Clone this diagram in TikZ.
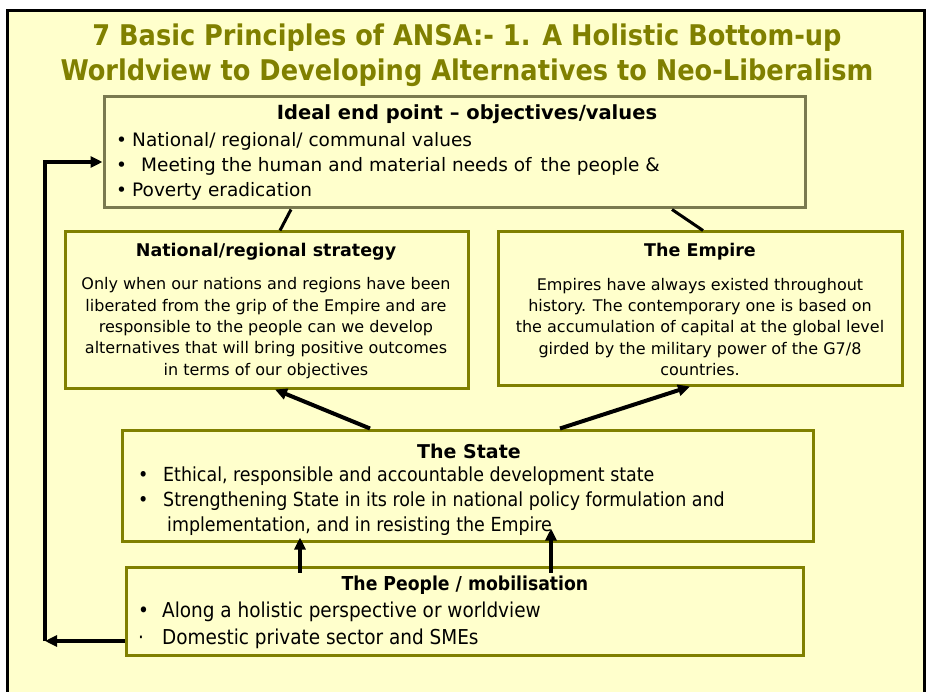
\documentclass[tikz,border=0pt]{standalone}
\usepackage{fontspec}
\setmainfont{DejaVu Sans}
\newfontfamily\condfont{DejaVu Sans Condensed}
\usetikzlibrary{arrows.meta,positioning}
\definecolor{pagebg}{HTML}{FFFFCC}
\definecolor{boxolive}{HTML}{808000}
\definecolor{boxgrey}{HTML}{7A7A50}
\newcommand{\dotmark}{\makebox[16pt][l]{•}}
\begin{document}
\begin{tikzpicture}[
        x = 1pt, y = -1pt,
        box/.style     = {draw=boxolive, line width=3pt, minimum width=#1, inner sep=0pt},
        head/.style    = {font=\fontsize{17.5}{20}\selectfont\bfseries},
        body/.style    = {font=\fontsize{16}{21.3}\selectfont, align=center, inner sep=0pt},
        item/.style    = {font=\fontsize{18.5}{20}\selectfont, anchor=west, inner sep=0pt},
        conditem/.style= {font=\condfont\fontsize{19.4}{21}\selectfont, anchor=west, inner sep=0pt},
        link/.style    = {black, line width=3pt},
        arrow/.style   = {black, line width=4pt, -{Triangle[length=12pt,width=11pt]}},
      ]
    \useasboundingbox (0,0) rectangle (926,692);
    \fill[white] (0,0) rectangle (926,692);
    \fill[pagebg] (7,11) rectangle (924,700);
    \draw[line width=3pt] (7,700) -- (7,11) -- (924,11) -- (924,700);

    % title
    \node[font=\condfont\fontsize{28.5}{35}\selectfont\bfseries, text=boxolive, align=center] (title) at (467,55)
        {7 Basic Principles of ANSA:- 1. A Holistic Bottom-up\\
         Worldview to Developing Alternatives to Neo-Liberalism};

    % boxes
    \node[box=701pt, draw=boxgrey, minimum height=111pt] (ideal) at (454.5,152.5) {};
    \node[box=403pt, minimum height=156pt] (natl) at (266.5,310) {};
    \node[box=404pt, minimum height=153pt] (empire) at (700,308.5) {};
    \node[box=691pt, minimum height=111pt] (state) at (467.5,485.5) {};
    \node[box=677pt, minimum height=88pt] (people) at (464.5,611) {};

    % ideal end point
    \node[head, font=\fontsize{19.5}{22}\selectfont\bfseries] (idealhead) at (467,114) {Ideal end point – objectives/values};
    \node[item] (ideal1) at (116,141) {\dotmark National/ regional/ communal values};
    \node[item] (ideal2) at (116,166) {\dotmark\, Meeting the human and material needs of\, the people \&};
    \node[item] (ideal3) at (116,191) {\dotmark Poverty eradication};

    % national / regional strategy
    \node[head] (natlhead) at (266,252) {National/regional strategy};
    \node[body] (natltext) at (266,328) {Only when our nations and regions have been\\
        liberated from the grip of the Empire and are\\
        responsible to the people can we develop\\
        alternatives that will bring positive outcomes\\
        in terms of our objectives};

    % the empire
    \node[head] (empirehead) at (700,252) {The Empire};
    \node[body] (empiretext) at (700,327) {Empires have always existed throughout\\
        history. The contemporary one is based on\\
        the accumulation of capital at the global level\\
        girded by the military power of the G7/8\\
        countries.};

    % the state
    \node[head, font=\fontsize{19}{21}\selectfont\bfseries] (statehead) at (469,451) {The State};
    \node[conditem] (state1) at (138,476) {\dotmark\hspace{9pt}Ethical, responsible and accountable development state};
    \node[conditem] (state2) at (138,501) {\dotmark\hspace{9pt}Strengthening State in its role in national policy formulation and};
    \node[conditem] (state3) at (167,526) {implementation, and in resisting the Empire};

    % the people
    \node[head, font=\condfont\fontsize{19.2}{21}\selectfont\bfseries] (peoplehead) at (465,585) {The People / mobilisation};
    \node[conditem, font=\condfont\fontsize{20.5}{22}\selectfont] (people1) at (138,612) {\dotmark\hspace{8pt}Along a holistic perspective or worldview};
    \node[conditem, font=\condfont\fontsize{20.5}{22}\selectfont] (people2) at (138,639) {\makebox[16pt][l]{·}\hspace{8pt}Domestic private sector and SMEs};

    % connectors
    \draw[link] ([xshift=-163.5pt]ideal.south) -- ([xshift=13.5pt]natl.north);
    \draw[link] ([xshift=217.5pt]ideal.south) -- ([xshift=3pt]empire.north);
    \draw[arrow] ([xshift=-97.5pt]state.north) -- ([xshift=8.5pt]natl.south);
    \draw[arrow] ([xshift=92.5pt]state.north) -- ([xshift=-10pt]empire.south);
    \draw[arrow] ([xshift=-164.5pt,yshift=-7pt]people.north) -- ([xshift=-167.5pt,yshift=5pt]state.south);
    \draw[arrow] ([xshift=86.5pt,yshift=-7pt]people.north) -- ([xshift=83.5pt,yshift=14pt]state.south);
    \coordinate (corner) at (45,641);
    \draw[arrow] ([yshift=-30pt]people.west) -- (corner);
    \draw[arrow] (corner) |- ([yshift=-9.5pt]ideal.west);
\end{tikzpicture}
\end{document}
